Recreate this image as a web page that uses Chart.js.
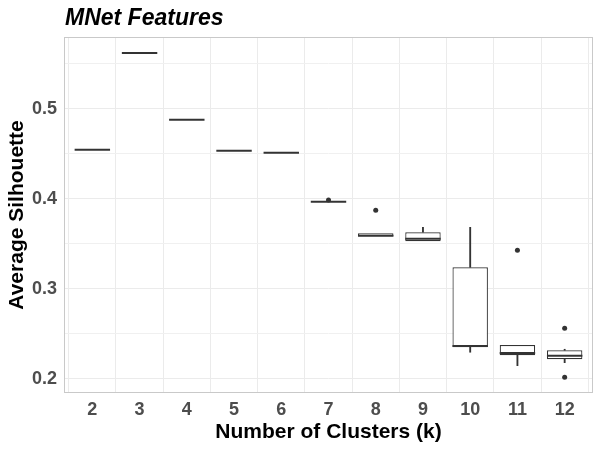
<!DOCTYPE html>
<html>
<head>
<meta charset="utf-8">
<title>MNet Features</title>
<script src="https://cdn.jsdelivr.net/npm/chart.js@4.4.1/dist/chart.umd.min.js"></script>
<style>
  html, body { margin: 0; padding: 0; background: #fff; }
  #wrap { width: 600px; height: 450px; }
</style>
</head>
<body>
<div id="wrap"><canvas id="chart"></canvas></div>
<script>
// Number of clusters (k)
const clusters = [2, 3, 4, 5, 6, 7, 8, 9, 10, 11, 12];

// Box statistics of average silhouette per k
const q1 =     [0.4548, 0.5622, 0.4881, 0.4537, 0.4515, 0.3970, 0.3586, 0.3530, 0.2352, 0.2263, 0.2219];
const median = [0.4548, 0.5622, 0.4881, 0.4537, 0.4515, 0.3970, 0.3592, 0.3559, 0.2367, 0.2289, 0.2259];
const q3 =     [0.4548, 0.5622, 0.4881, 0.4537, 0.4515, 0.3970, 0.3619, 0.3630, 0.3241, 0.2378, 0.2319];
const whiskerLow =  [null, null, null, null, null, null, null, null, 0.2297, 0.2148, 0.2181];
const whiskerHigh = [null, null, null, null, null, null, null, 0.3685, 0.3685, null, 0.2330];

// Outlying points
const outlierK =     [7, 8, 11, 12, 12];
const outlierValue = [0.399, 0.3874, 0.343, 0.2563, 0.2019];

// Axis ticks
const yTicks = [0.2, 0.25, 0.3, 0.35, 0.4, 0.45, 0.5, 0.55];

const INK = "#333333";
const FONT = "'Liberation Sans', Arial, sans-serif";

const isMajor = (v) => Math.abs(v * 10 - Math.round(v * 10)) < 1e-6;

// whisker segments only where they exist
const lowSegs = [];
const highSegs = [];
clusters.forEach((k, i) => {
  if (whiskerLow[i] !== null) lowSegs.push({ x: k, y: [whiskerLow[i], q1[i]] });
  if (whiskerHigh[i] !== null) highSegs.push({ x: k, y: [q3[i], whiskerHigh[i]] });
});

// median line length follows the box width
const halfBox = (ctx) => {
  const x = ctx.chart.scales.x;
  return Math.abs(x.getPixelForValue(3) - x.getPixelForValue(2)) * 0.75 / 2;
};

const panelPlugin = {
  id: "panel",
  beforeDatasetsDraw(chart) {
    const { ctx, chartArea: a } = chart;
    ctx.save();
    ctx.strokeStyle = "#c9c9c9";
    ctx.lineWidth = 1;
    ctx.strokeRect(a.left + 0.5, a.top + 0.5, a.right - a.left - 1, a.bottom - a.top - 1);
    ctx.restore();
  },
  afterDraw(chart) {
    const { ctx, chartArea: a } = chart;
    ctx.save();
    ctx.fillStyle = "#000";
    ctx.font = "italic bold 23px " + FONT;
    ctx.textAlign = "left";
    ctx.textBaseline = "alphabetic";
    ctx.fillText("MNet Features", a.left + 1, 25);
    ctx.restore();
  }
};

new Chart(document.getElementById("chart"), {
  type: "bar",
  data: {
    datasets: [
      {
        type: "line",
        label: "median",
        data: clusters.map((k, i) => ({ x: k, y: median[i] })),
        showLine: false,
        pointStyle: "line",
        pointRadius: halfBox,
        pointHoverRadius: halfBox,
        pointBorderWidth: 2,
        pointBorderColor: INK,
        order: 0
      },
      {
        type: "line",
        label: "outliers",
        data: outlierK.map((k, i) => ({ x: k, y: outlierValue[i] })),
        showLine: false,
        pointStyle: "circle",
        pointRadius: 2.5,
        pointBorderWidth: 0,
        pointBackgroundColor: INK,
        order: 0
      },
      {
        label: "box",
        data: clusters.map((k, i) => ({ x: k, y: [q1[i], q3[i]] })),
        backgroundColor: "#ffffff",
        borderColor: INK,
        borderWidth: 1.2,
        borderSkipped: false,
        barPercentage: 0.75,
        categoryPercentage: 1,
        grouped: false,
        order: 1
      },
      {
        label: "whisker low",
        data: lowSegs,
        backgroundColor: INK,
        barThickness: 1.2,
        grouped: false,
        order: 2
      },
      {
        label: "whisker high",
        data: highSegs,
        backgroundColor: INK,
        barThickness: 1.2,
        grouped: false,
        order: 2
      }
    ]
  },
  options: {
    responsive: true,
    maintainAspectRatio: false,
    animation: false,
    layout: { padding: { top: 37, right: 7, left: 0, bottom: 0 } },
    plugins: {
      legend: { display: false },
      tooltip: { enabled: false },
      title: { display: false }
    },
    scales: {
      x: {
        type: "linear",
        offset: false,
        min: 1.4,
        max: 12.6,
        afterBuildTicks: (scale) => { scale.ticks = clusters.map((v) => ({ value: v })); },
        afterFit: (scale) => { scale.height = 57; },
        grid: { color: "#ebebeb", lineWidth: 1, drawTicks: false },
        border: { display: false },
        ticks: {
          color: "#4d4d4d",
          font: { family: FONT, size: 18, weight: "bold" },
          padding: 6,
          maxRotation: 0,
          autoSkip: false,
          callback: (v) => String(v)
        },
        title: {
          display: true,
          text: "Number of Clusters (k)",
          color: "#000",
          font: { family: FONT, size: 21, weight: "bold" },
          padding: { top: 0, bottom: 5 }
        }
      },
      y: {
        min: 0.1844,
        max: 0.58,
        afterBuildTicks: (scale) => { scale.ticks = yTicks.map((v) => ({ value: v })); },
        afterFit: (scale) => { scale.width = 64; },
        grid: {
          drawTicks: false,
          color: (ctx) => (isMajor(ctx.tick.value) ? "#ebebeb" : "#f0f0f0"),
          lineWidth: 1
        },
        border: { display: false },
        ticks: {
          color: "#4d4d4d",
          font: { family: FONT, size: 18, weight: "bold" },
          padding: 7,
          callback: (v) => (isMajor(v) ? v.toFixed(1) : "")
        },
        title: {
          display: true,
          text: "Average Silhouette",
          color: "#000",
          font: { family: FONT, size: 21, weight: "bold" },
          padding: { top: 5, bottom: 0 }
        }
      }
    }
  },
  plugins: [panelPlugin]
});
</script>
</body>
</html>
